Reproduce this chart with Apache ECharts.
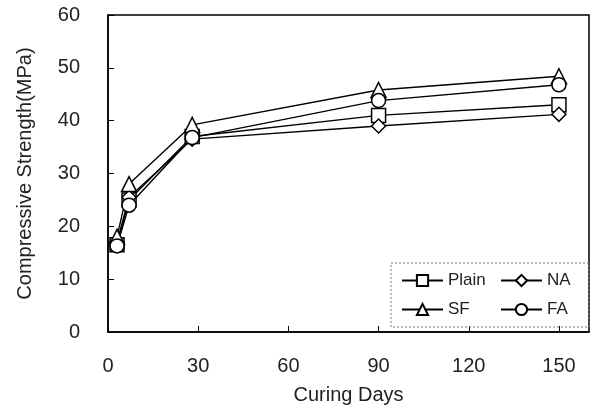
<!DOCTYPE html>
<html>
<head>
<meta charset="utf-8">
<script src="https://cdn.jsdelivr.net/npm/echarts@6/dist/echarts.min.js"></script>
<style>
html,body{margin:0;padding:0;background:#fff;}
#main{width:595px;height:405px;}
</style>
</head>
<body>
<div id="main"></div>
<script>
// curing days and compressive strength (MPa) per mix
var days = [3, 7, 28, 90, 150];
var plain = [16.5, 25, 37, 41, 43];
var na = [17, 25.5, 36.5, 39, 41.2];
var sf = [18, 28, 39.2, 45.8, 48.4];
var fa = [16.3, 24, 36.8, 43.8, 46.8];

var names = ['Plain', 'NA', 'SF', 'FA'];
var symbols = ['rect', 'diamond', 'triangle', 'circle'];
var values = [plain, na, sf, fa];

function pairs(arr){
    return days.map(function(d, i){ return [d, arr[i]]; });
}

var font = '"Liberation Sans", Arial, sans-serif';
var chart = echarts.init(document.getElementById('main'));

var series = names.map(function(n, k){
    return {
        name: n,
        type: 'line',
        data: pairs(values[k]),
        symbol: symbols[k],
        symbolSize: k == 2 ? 15 : 14,
        lineStyle: {color: '#000', width: 1.4},
        itemStyle: {color: '#fff', borderColor: '#000', borderWidth: 1.5},
        emphasis: {disabled: true},
        animation: false
    };
});

var legendText = {fontFamily: font, fontSize: 17, color: '#222'};

var option = {
    animation: false,
    grid: {
        left: 108, right: 6, top: 15, bottom: 73,
        outerBoundsMode: 'none',
        show: true, borderColor: '#000', borderWidth: 1.5
    },
    xAxis: {
        type: 'value',
        min: 0, max: 160, interval: 30,
        name: 'Curing Days',
        nameLocation: 'middle',
        nameGap: 53,
        nameTextStyle: {fontFamily: font, fontSize: 20, color: '#222'},
        axisLine: {lineStyle: {color: '#000', width: 1.5}},
        axisTick: {inside: true, length: 6, lineStyle: {color: '#000'}},
        axisLabel: {fontFamily: font, fontSize: 20, color: '#222', margin: 24, showMaxLabel: false},
        splitLine: {show: false}
    },
    yAxis: {
        type: 'value',
        min: 0, max: 60, interval: 10,
        name: 'Compressive Strength(MPa)',
        nameLocation: 'middle',
        nameGap: 73,
        nameTextStyle: {fontFamily: font, fontSize: 20, color: '#222'},
        axisLine: {lineStyle: {color: '#000', width: 1.5}},
        axisTick: {inside: true, length: 6, lineStyle: {color: '#000'}},
        axisLabel: {fontFamily: font, fontSize: 20, color: '#222', margin: 28},
        splitLine: {show: false}
    },
    legend: [
        {
            orient: 'vertical', left: 401, top: 272, padding: 0,
            itemWidth: 41, itemHeight: 14, itemGap: 12,
            textStyle: legendText,
            data: ['Plain', 'SF']
        },
        {
            orient: 'vertical', left: 500, top: 272, padding: 0,
            itemWidth: 41, itemHeight: 14, itemGap: 12,
            textStyle: legendText,
            data: ['NA', 'FA']
        }
    ],
    graphic: [{
        type: 'rect',
        shape: {x: 391, y: 263, width: 198, height: 64},
        style: {fill: null, stroke: '#777', lineWidth: 1, lineDash: [2, 2]},
        z: 10
    }],
    series: series
};

chart.setOption(option);
</script>
</body>
</html>
